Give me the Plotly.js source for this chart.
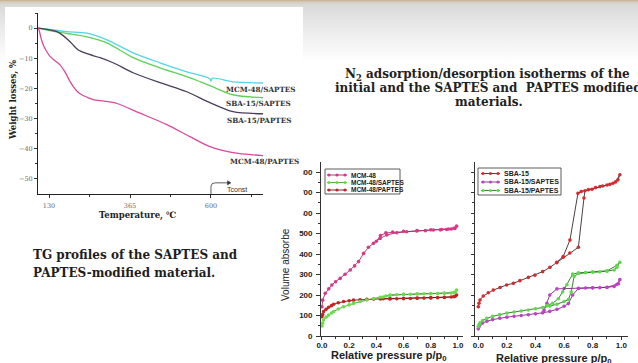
<!DOCTYPE html>
<html><head><meta charset="utf-8">
<script src="https://cdn.plot.ly/plotly-3.0.1.min.js"></script>
<style>
html,body{margin:0;padding:0;}
body{width:638px;height:363px;overflow:hidden;position:relative;
background:linear-gradient(to bottom,#c7ae8a 0px,#d3cbc0 2px,#d9d9d9 5px,#e6e6e6 22px,#f3f3f3 42px,#ffffff 62px);}
#iso{position:absolute;left:0;top:0;width:638px;height:363px;}
#tg{position:absolute;left:5px;top:7px;width:298px;height:215px;background:#fff;}
</style></head><body>
<div id="iso"></div><div id="tg"></div>
<script>
// ---------- TG profiles: temperature (°C) vs weight loss (%) ----------
const tgLabels = ['MCM-48/SAPTES', 'SBA-15/SAPTES', 'SBA-15/PAPTES', 'MCM-48/PAPTES'];
const tgMcmSaptesT = [98,130,182,240,298,374,452,530,597,600,604,664,751];
const tgMcmSaptesW = [0,-0.4,-1.2,-1.7,-3.9,-8.2,-11.5,-14.5,-16.8,-17.6,-16.6,-17.8,-18.2];
const tgSbaSaptesT = [98,130,182,240,298,374,452,530,597,664,751];
const tgSbaSaptesW = [0,-0.8,-1.8,-2.9,-4.9,-9.8,-13.2,-16.1,-19.1,-22.1,-23.1];
const tgSbaPaptesT = [98,133,153,171,191,214,240,278,316,374,452,530,597,664,751];
const tgSbaPaptesW = [0,-0.6,-1.2,-2.5,-4.5,-7.2,-8.5,-9.8,-11.5,-14.8,-18.1,-21.1,-24.7,-27.7,-28.4];
const tgMcmPaptesT = [98,102,106,113,122,133,147,162,172,181,190,200,212,225,240,258,290,327,394,472,539,597,664,751];
const tgMcmPaptesW = [0,-1.0,-3.0,-5.5,-7.5,-9.4,-10.8,-12.2,-13.8,-15.5,-17.5,-19.3,-21.0,-22.1,-22.9,-23.7,-24.2,-25.0,-28.2,-32.0,-36.0,-39.3,-41.3,-42.3];
const tgTempTicks = [130, 365, 600];
const tgWeightTicks = [0, -10, -20, -30, -40, -50];

// ---------- N2 isotherms: relative pressure vs volume adsorbed (adsorption, then desorption) ----------
const mcmNames = ['MCM-48', 'MCM-48/SAPTES', 'MCM-48/PAPTES'];
const mcm48P = [0,0.005,0.024,0.05,0.073,0.1,0.134,0.17,0.208,0.24,0.269,0.306,0.342,0.379,0.428,0.477,0.55,0.623,0.697,0.76,0.819,0.87,0.917,0.95,0.978,0.99,
                0.97,0.93,0.88,0.8,0.7,0.6,0.52,0.47,0.43,0.4];
const mcm48V = [143,175,208,230,249,265,281,301,322,342,363,403,433,452,476,493,504,509,512,514,517,518,520,522,525,536,
                526,522,520,518,515,511,507,503,490,462];
const mcm48SaptesP = [0,0.005,0.012,0.03,0.049,0.07,0.086,0.12,0.159,0.2,0.232,0.28,0.33,0.38,0.428,0.47,0.5,0.55,0.6,0.65,0.7,0.75,0.8,0.85,0.9,0.95,0.98,0.99,
                      0.97,0.9,0.8,0.7,0.6,0.5,0.45];
const mcm48SaptesV = [49,62,78,92,102,112,119,132,143,152,159,168,176,183,189,195,198,201,203,204,205,206,207,207,208,210,215,224,
                      212,209,207,206,204,200,190];
const mcm48PaptesP = [0,0.005,0.012,0.03,0.049,0.07,0.086,0.12,0.159,0.2,0.232,0.28,0.33,0.38,0.43,0.5,0.55,0.6,0.65,0.7,0.75,0.8,0.85,0.9,0.95,0.98,0.99,
                      0.97,0.9,0.8,0.7,0.6,0.5,0.45];
const mcm48PaptesV = [94,105,119,130,140,148,155,162,168,172,175,177,179,180,181,181,182,182,183,184,185,186,187,188,190,194,200,
                      192,189,187,185,184,183,182];

const sbaNames = ['SBA-15', 'SBA-15/SAPTES', 'SBA-15/PAPTES'];
const sba15P = [0,0.005,0.012,0.035,0.07,0.105,0.152,0.198,0.245,0.291,0.35,0.396,0.45,0.501,0.548,0.594,0.64,0.70,0.739,0.746,0.795,0.851,0.9,0.942,0.977,0.99,
                0.96,0.92,0.87,0.82,0.77,0.72,0.697,0.641,0.594,0.55];
const sba15V = [143,160,176,195,211,224,237,249,257,270,286,297,314,335,358,384,405,433,673,709,716,729,737,745,762,787,
                752,740,732,724,714,705,696,468,388,360];
const sba15SaptesP = [0,0.005,0.012,0.03,0.06,0.1,0.15,0.2,0.25,0.3,0.35,0.4,0.45,0.5,0.55,0.6,0.63,0.66,0.7,0.75,0.8,0.85,0.9,0.95,0.98,0.99,
                      0.97,0.9,0.8,0.7,0.6,0.55,0.5,0.48,0.46];
const sba15SaptesV = [35,45,55,63,72,80,87,92,96,100,104,108,113,120,130,145,158,200,232,234,235,236,237,242,255,275,
                      252,238,235,233,232,230,200,160,125];
const sba15PaptesP = [0,0.005,0.012,0.03,0.06,0.1,0.15,0.2,0.25,0.3,0.35,0.4,0.45,0.5,0.55,0.6,0.63,0.65,0.67,0.7,0.75,0.8,0.85,0.9,0.95,0.97,0.99,
                      0.97,0.9,0.8,0.7,0.66,0.62,0.59,0.56,0.52,0.48];
const sba15PaptesV = [45,55,64,75,86,96,105,112,117,122,127,133,139,146,155,168,178,215,290,305,309,311,313,316,322,335,360,
                      345,318,313,308,302,250,215,182,160,148];
const pTicks = [0, 0.2, 0.4, 0.6, 0.8, 1.0];

// ---------- isotherm figure (full slide) ----------
const SW = 638, SH = 363;
const sx = px => px / SW;
const sy = py => 1 - py / SH;

const isoLine = {mcm: '#a0286a', mcmS: '#3e9a2c', mcmP: '#6a1414', sba: '#3a2a2a', sbaS: '#7a2a7a', sbaP: '#2e6e28'};
const isoMark = {mcm: '#d8388a', mcmS: '#6cdc4a', mcmP: '#c42424', sba: '#d62a30', sbaS: '#c040c8', sbaP: '#5cd84a'};

function iso(xs, ys, key, xa, ya) {
  return {x: xs, y: ys, xaxis: xa, yaxis: ya, mode: 'lines+markers', showlegend: false,
          line: {color: isoLine[key], width: 0.9},
          marker: {color: isoMark[key], size: 3.6, symbol: 'circle'}, hoverinfo: 'skip'};
}
const isoTraces = [
  iso(mcm48PaptesP, mcm48PaptesV, 'mcmP', 'x', 'y'),
  iso(mcm48SaptesP, mcm48SaptesV, 'mcmS', 'x', 'y'),
  iso(mcm48P, mcm48V, 'mcm', 'x', 'y'),
  iso(sba15SaptesP, sba15SaptesV, 'sbaS', 'x2', 'y2'),
  iso(sba15PaptesP, sba15PaptesV, 'sbaP', 'x2', 'y2'),
  iso(sba15P, sba15V, 'sba', 'x2', 'y2')
];

const axFont = {family: 'Liberation Sans, Arial, sans-serif', size: 8, color: '#222', weight: 'bold'};
function xAx(domain, range) {
  return {domain: domain, range: range, showline: true, linecolor: '#333', linewidth: 1, mirror: false,
          zeroline: false, showgrid: false, tickvals: pTicks, tickformat: '.1f', ticks: 'outside', ticklen: 3,
          tickcolor: '#333', tickwidth: 1, tickfont: axFont, ticklabelstandoff: -2,
          minor: {dtick: 0.1, tick0: 0, ticks: 'outside', ticklen: 2, tickcolor: '#333', showgrid: false}};
}
function yAx(domain, anchor, labels) {
  return {domain: domain, range: [0, 849], anchor: anchor, showline: true, linecolor: '#333', linewidth: 1,
          zeroline: false, showgrid: false, dtick: 100, tick0: 0, ticks: 'outside', ticklen: 3.5,
          tickcolor: '#333', tickwidth: 1, showticklabels: labels, tickfont: axFont, ticklabelstandoff: 2,
          minor: {dtick: 50, tick0: 0, ticks: 'outside', ticklen: 2, tickcolor: '#333', showgrid: false}};
}
const yDom = [sy(336), sy(162)];

const isoShapes = [];
const isoAnn = [];
function legendBox(x0, x1, y0, y1, rows, names, keys, lx0, lx1, tx, fs) {
  isoShapes.push({type: 'rect', xref: 'paper', yref: 'paper', x0: sx(x0), x1: sx(x1), y0: sy(y1), y1: sy(y0),
                  line: {color: '#333', width: 0.8}, fillcolor: 'rgba(255,255,255,0.9)'});
  rows.forEach((ry, i) => {
    const k = keys[i];
    isoShapes.push({type: 'line', xref: 'paper', yref: 'paper', x0: sx(lx0), x1: sx(lx1), y0: sy(ry), y1: sy(ry),
                    line: {color: isoLine[k], width: 0.9}});
    [lx0 + 2, (lx0 + lx1) / 2, lx1 - 2].forEach(cx => {
      isoShapes.push({type: 'circle', xref: 'paper', yref: 'paper', x0: sx(cx - 1.6), x1: sx(cx + 1.6),
                      y0: sy(ry + 1.6), y1: sy(ry - 1.6), fillcolor: isoMark[k], line: {width: 0}});
    });
    isoAnn.push({xref: 'paper', yref: 'paper', x: sx(tx), y: sy(ry), xanchor: 'left', yanchor: 'middle',
                 showarrow: false, text: '<b>' + names[i] + '</b>',
                 font: {family: 'Liberation Sans, Arial, sans-serif', size: fs, color: '#222'}});
  });
}
legendBox(325, 400, 169, 194, [175, 182.5, 190], mcmNames, ['mcm', 'mcmS', 'mcmP'], 327, 347, 349, 6.5);
legendBox(478, 561, 168, 195, [173.5, 182, 190.5], sbaNames, ['sba', 'sbaS', 'sbaP'], 481, 500, 502, 7);

const serif = 'DejaVu Serif, serif';
[['N<sub>2</sub> adsorption/desorption isotherms of the', 487, 75],
 ['initial and the SAPTES and&nbsp; PAPTES modified', 488, 88.5],
 ['materials.', 489, 102]].forEach(t => {
  isoAnn.push({xref: 'paper', yref: 'paper', x: sx(t[1]), y: sy(t[2]), xanchor: 'center', yanchor: 'middle',
               showarrow: false, text: '<b>' + t[0] + '</b>', font: {family: serif, size: 12, color: '#222'}});
});
[['TG profiles of the SAPTES and', 255], ['PAPTES-modified material.', 273]].forEach(t => {
  isoAnn.push({xref: 'paper', yref: 'paper', x: sx(31), y: sy(t[1]), xanchor: 'left', yanchor: 'middle',
               showarrow: false, text: '<b>' + t[0] + '</b>', font: {family: serif, size: 12, color: '#1e1e1e'}});
});
isoAnn.push({xref: 'paper', yref: 'paper', x: sx(285), y: sy(265), textangle: -90, showarrow: false,
             xanchor: 'center', yanchor: 'middle', text: 'Volume absorbe',
             font: {family: 'Liberation Sans, Arial, sans-serif', size: 10, color: '#222'}});
[[389, 355.5], [554, 358.5]].forEach(c => {
  isoAnn.push({xref: 'paper', yref: 'paper', x: sx(c[0]), y: sy(c[1]), showarrow: false,
               xanchor: 'center', yanchor: 'middle', text: '<b>Relative pressure p/p<sub>0</sub></b>',
               font: {family: 'Liberation Sans, Arial, sans-serif', size: 11, color: '#222'}});
});

Plotly.newPlot('iso', isoTraces, {
  width: SW, height: SH, margin: {l: 0, r: 0, t: 0, b: 0},
  paper_bgcolor: 'rgba(0,0,0,0)', plot_bgcolor: 'rgba(0,0,0,0)', showlegend: false,
  xaxis: Object.assign(xAx([sx(320.6), sx(463.4)], [-0.01, 1.04]), {anchor: 'y'}),
  yaxis: yAx(yDom, 'x', true),
  xaxis2: Object.assign(xAx([sx(475), sx(628)], [-0.023, 1.047]), {anchor: 'y2'}),
  yaxis2: yAx(yDom, 'x2', false),
  shapes: isoShapes, annotations: isoAnn
}, {staticPlot: true});

// ---------- TG panel ----------
const PX0 = 5, PY0 = 7, PW = 298, PH = 215;
const tx = px => (px - PX0) / PW;
const ty = py => 1 - (py - PY0) / PH;
const tgColors = ['#52d6e6', '#5fd05a', '#4a3e5c', '#d84a9c'];
const tgSeries = [[tgMcmSaptesT, tgMcmSaptesW], [tgSbaSaptesT, tgSbaSaptesW], [tgSbaPaptesT, tgSbaPaptesW], [tgMcmPaptesT, tgMcmPaptesW]];
const tgTraces = tgSeries.map((s, i) => ({
  x: s[0], y: s[1], mode: 'lines', name: tgLabels[i], showlegend: false, hoverinfo: 'skip',
  line: {color: tgColors[i], width: 1.3, shape: 'spline', smoothing: 0.8}
}));
const tgLabelPos = [[224, 89], [224, 103.5], [225, 120], [228, 161]];
const tgAnn = tgLabels.map((t, i) => ({
  xref: 'paper', yref: 'paper', x: tx(tgLabelPos[i][0]), y: ty(tgLabelPos[i][1]), xanchor: 'left', yanchor: 'middle',
  showarrow: false, text: '<b>' + t + '</b>', font: {family: serif, size: 7.2, color: '#333'}
}));
tgAnn.push({xref: 'paper', yref: 'paper', x: tx(137), y: ty(215), xanchor: 'center', yanchor: 'middle', showarrow: false,
            text: '<b>Temperature, ℃</b>', font: {family: serif, size: 8.5, color: '#222'}});
tgAnn.push({xref: 'paper', yref: 'paper', x: tx(14), y: ty(100), xanchor: 'center', yanchor: 'middle', showarrow: false,
            textangle: -90, text: '<b>Weight losses, %</b>', font: {family: serif, size: 8.5, color: '#222'}});
tgAnn.push({xref: 'paper', yref: 'paper', x: tx(237), y: ty(189.5), xanchor: 'center', yanchor: 'middle', showarrow: false,
            text: 'Tconst', font: {family: 'Liberation Sans, Arial, sans-serif', size: 7, color: '#333'}});

Plotly.newPlot('tg', tgTraces, {
  width: PW, height: PH, margin: {l: 0, r: 0, t: 0, b: 0},
  paper_bgcolor: '#fff', plot_bgcolor: '#fff', showlegend: false,
  xaxis: {domain: [tx(38), tx(263)], range: [98, 751], tickvals: tgTempTicks, ticks: 'outside', ticklen: 3,
          tickcolor: '#333', showline: true, linecolor: '#222', linewidth: 1, zeroline: false, showgrid: false,
          tickfont: {family: serif, size: 6.5, color: '#666'}, ticklabelstandoff: 2,
          minor: {tickvals: [247.5, 482.5, 717.5], ticks: 'outside', ticklen: 2, tickcolor: '#333', showgrid: false}},
  yaxis: {domain: [ty(194), ty(13)], range: [-55, 5], tickvals: tgWeightTicks, ticks: 'outside', ticklen: 3,
          tickcolor: '#333', showline: true, linecolor: '#222', linewidth: 1, zeroline: false, showgrid: false,
          tickfont: {family: serif, size: 6.5, color: '#666'},
          minor: {tickvals: [5, -5, -15, -25, -35, -45], ticks: 'outside', ticklen: 2, tickcolor: '#333', showgrid: false}},
  shapes: [
    {type: 'path', xref: 'x', yref: 'y', path: 'M 600,-55 L 600,-52.4 Q 601,-51.3 612,-51.3 L 650,-51.3',
     line: {color: '#333', width: 0.8}},
    {type: 'path', xref: 'x', yref: 'y', path: 'M 648,-50.6 L 658,-51.3 L 648,-52.0 Z',
     fillcolor: '#333', line: {color: '#333', width: 0.5}}
  ],
  annotations: tgAnn
}, {staticPlot: true});
</script></body></html>
